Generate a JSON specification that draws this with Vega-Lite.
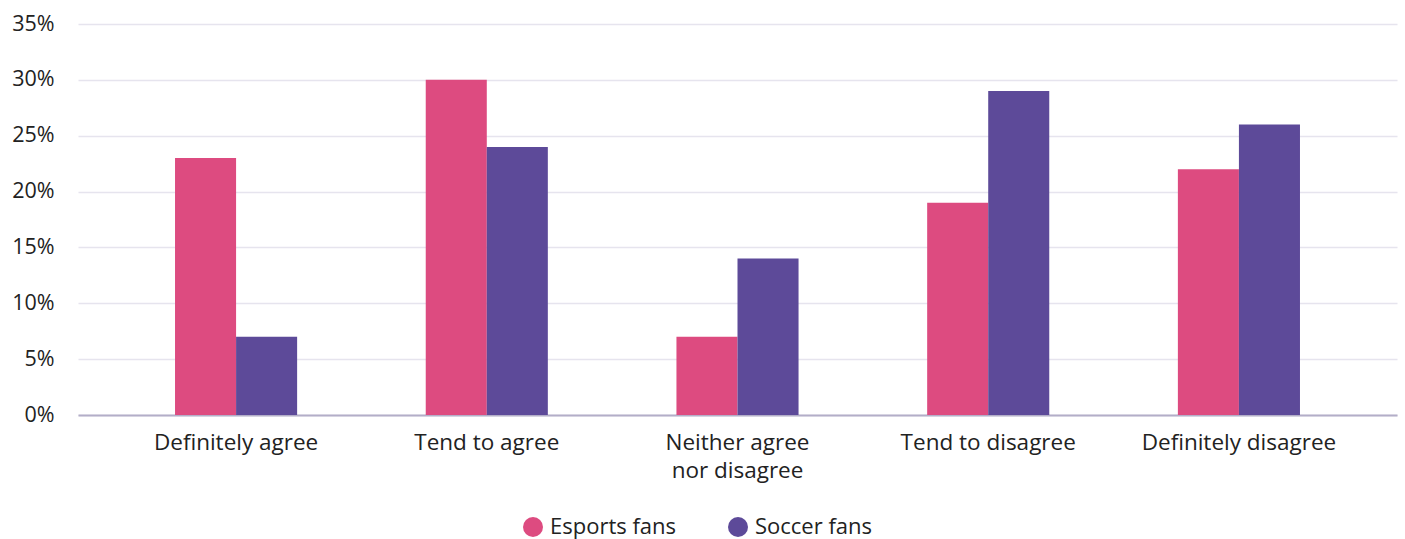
{
  "$schema": "https://vega.github.io/schema/vega-lite/v6.json",
  "width": 1319,
  "height": 391,
  "autosize": {"type": "none"},
  "padding": {"left": 78, "top": 24, "right": 8, "bottom": 124},
  "background": "white",
  "config": {"view": {"stroke": null}, "font": "Open Sans"},
  "data": {
    "values": [
      {"response": "Definitely agree", "group": "Esports fans", "value": 23},
      {"response": "Definitely agree", "group": "Soccer fans", "value": 7},
      {"response": "Tend to agree", "group": "Esports fans", "value": 30},
      {"response": "Tend to agree", "group": "Soccer fans", "value": 24},
      {"response": "Neither agree nor disagree", "group": "Esports fans", "value": 7},
      {"response": "Neither agree nor disagree", "group": "Soccer fans", "value": 14},
      {"response": "Tend to disagree", "group": "Esports fans", "value": 19},
      {"response": "Tend to disagree", "group": "Soccer fans", "value": 29},
      {"response": "Definitely disagree", "group": "Esports fans", "value": 22},
      {"response": "Definitely disagree", "group": "Soccer fans", "value": 26}
    ]
  },
  "mark": {"type": "bar"},
  "encoding": {
    "x": {
      "field": "response",
      "type": "nominal",
      "sort": null,
      "scale": {"paddingInner": 0.513, "paddingOuter": 0.387},
      "axis": {
        "title": null,
        "labelAngle": 0,
        "labelFontSize": 22.5,
        "labelColor": "#222222",
        "labelPadding": 16,
        "labelLineHeight": 28,
        "labelLimit": 0,
        "ticks": false,
        "domainColor": "#b3aec8",
        "domainWidth": 2,
        "grid": false,
        "labelExpr": "datum.label == 'Neither agree nor disagree' ? ['Neither agree', 'nor disagree'] : datum.label"
      }
    },
    "xOffset": {"field": "group", "type": "nominal", "sort": ["Esports fans", "Soccer fans"]},
    "y": {
      "field": "value",
      "type": "quantitative",
      "scale": {"domain": [0, 35]},
      "axis": {
        "title": null,
        "values": [0, 5, 10, 15, 20, 25, 30, 35],
        "labelExpr": "datum.value + '%'",
        "labelFontSize": 21.5,
        "labelColor": "#222222",
        "labelPadding": 24,
        "ticks": false,
        "domain": false,
        "gridColor": "#e6e4ee",
        "gridWidth": 1.5
      }
    },
    "color": {
      "field": "group",
      "type": "nominal",
      "sort": ["Esports fans", "Soccer fans"],
      "scale": {"range": ["#dd4b80", "#5d4a99"]},
      "legend": {
        "title": null,
        "orient": "none",
        "direction": "horizontal",
        "legendX": 444,
        "legendY": 492,
        "symbolType": "circle",
        "symbolSize": 400,
        "symbolStrokeWidth": 0,
        "labelFontSize": 22,
        "labelColor": "#222222",
        "labelOffset": 6,
        "labelLimit": 0,
        "columnPadding": 50
      }
    }
  }
}
